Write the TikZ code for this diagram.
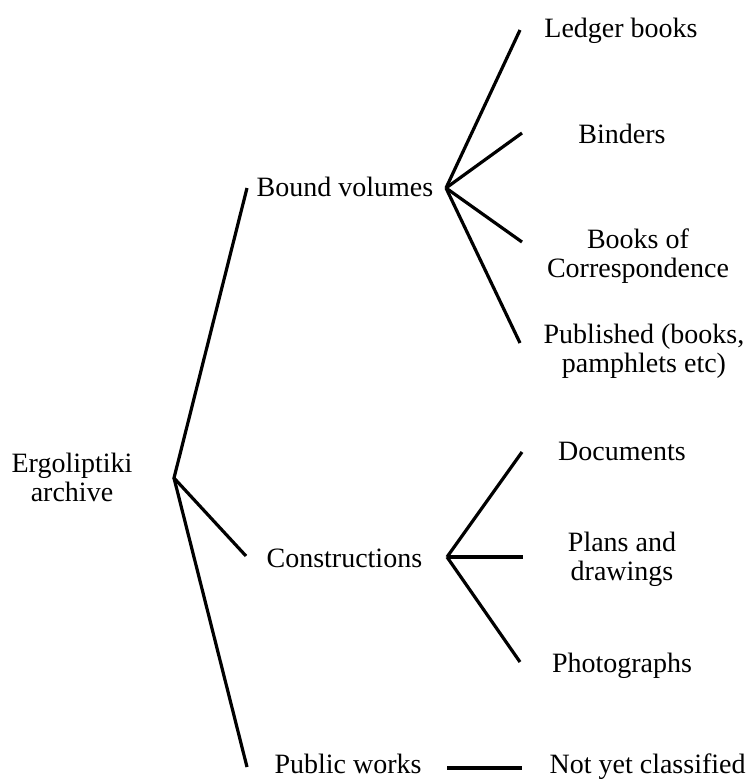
\documentclass[tikz,border=0pt]{standalone}
\usepackage{fontspec}
\setmainfont{Liberation Serif}
\usetikzlibrary{positioning}
\begin{document}
\begin{tikzpicture}[x=1pt, y=-1pt, line width=3.2pt,
  lbl/.style={font=\fontsize{28}{29}\selectfont, align=center, inner sep=0pt}]
\useasboundingbox (0,0) rectangle (748,780);
% root
\node[lbl] (root) at (72,477.5) {Ergoliptiki\\archive};
\coordinate (jr) at (174,478);
% second level
\node[lbl, anchor=base west] (bound) at (255,196) {Bound volumes};
\node[lbl, anchor=base west] (cons) at (265,567) {Constructions};
\node[lbl, anchor=base west] (pub) at (273,773) {Public works};
\coordinate (eb) at (247,188);
\coordinate (ec) at (246,556);
\coordinate (ep) at (247,767);
\draw (eb) -- (jr) -- (ec);
\draw (jr) -- (ep);
% bound volumes
\coordinate (jb) at (446,188);
\node[lbl, anchor=base] (ledger) at (621,37) {Ledger books};
\node[lbl, anchor=base] (binders) at (622,143) {Binders};
\node[lbl] (corr) at (638,256) {Books of\\Correspondence};
\node[lbl] (publ) at (644,351) {Published (books,\\pamphlets etc)};
\coordinate (el) at (520,30);
\coordinate (ei) at (522,133);
\coordinate (eo) at (522,242);
\coordinate (eu) at (520,343);
\foreach \e in {el,ei,eo,eu} \draw (jb) -- (\e);
% constructions
\coordinate (jc) at (447,557);
\node[lbl, anchor=base] (docs) at (622,460) {Documents};
\node[lbl] (plans) at (622,559.5) {Plans and\\drawings};
\node[lbl, anchor=base] (photos) at (622,672) {Photographs};
\coordinate (ed) at (522,452);
\coordinate (ea) at (523,557);
\coordinate (eh) at (520,662);
\foreach \e in {ed,ea,eh} \draw (jc) -- (\e);
% public works
\node[lbl, anchor=base west] (notyet) at (548,773) {Not yet classified};
\coordinate (jp) at (447,768);
\coordinate (en) at (522,768);
\draw (jp) -- (en);
\end{tikzpicture}
\end{document}
